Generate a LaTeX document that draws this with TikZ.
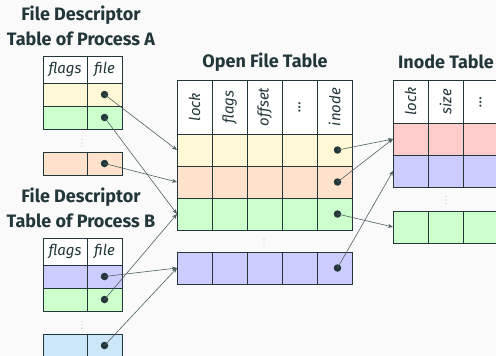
\documentclass[tikz,border=0pt]{standalone}
\usepackage{fontspec}
\setmainfont{Fira Sans}
\usetikzlibrary{arrows.meta}

\definecolor{slate}{HTML}{23373B}
\definecolor{pagebg}{HTML}{FAFAFA}
\definecolor{rowyellow}{HTML}{FFF8D6}
\definecolor{roworange}{HTML}{FFE2CC}
\definecolor{rowgreen}{HTML}{CCFFCC}
\definecolor{rowpurple}{HTML}{CCCCFF}
\definecolor{rowred}{HTML}{FFCCCC}
\definecolor{rowblue}{HTML}{CCE8F8}

\begin{document}
\begin{tikzpicture}[x=1pt, y=-1pt,
  cell/.style={rectangle, draw=slate, line width=0.6pt, minimum width=35pt,
    minimum height=32pt, inner sep=0pt, outer sep=0pt},
  fdcell/.style={cell, minimum height=23pt},
  head/.style={fill=white, text=slate, font=\itshape\fontsize{15}{17}\selectfont},
  ptr/.style={circle, fill=slate, inner sep=0pt, minimum size=7.5pt},
  link/.style={draw=slate!80, line width=0.6pt, -{Stealth[length=5pt, width=4pt]}},
  caption/.style={text=slate, align=center, font=\bfseries\fontsize{18}{25}\selectfont}]
\clip (0,0) rectangle (496,356);
\fill[pagebg] (0,0) rectangle (496,356);
% small vertical ellipsis between rows
\newcommand\rowgap[2]{\foreach \d in {-3.5,0,3.5} \fill[gray!45] (#1,#2+\d) circle (0.6pt);}

% process A
\node[caption] (fdA-title) at (81,25.5) {File Descriptor\\Table of Process A};
\node[fdcell, head, minimum width=44pt, minimum height=27pt] (fdA-h1) at (65,69.5) {flags};
\node[fdcell, head, minimum height=27pt] (fdA-h2) at (104.5,69.5) {file};
\foreach \c/\y [count=\r] in {rowyellow/94.5, rowgreen/117.5, roworange/163.5} {
  \node[fdcell, fill=\c, minimum width=44pt] (fdA-\r-1) at (65,\y) {};
  \node[fdcell, fill=\c] (fdA-\r-2) at (104.5,\y) {};
  \node[ptr] (fdA-dot-\r) at (fdA-\r-2) {};
}
\rowgap{82}{143}

% process B
\node[caption] (fdB-title) at (81,207.5) {File Descriptor\\Table of Process B};
\node[fdcell, head, minimum width=44pt, minimum height=27pt] (fdB-h1) at (65,251.5) {flags};
\node[fdcell, head, minimum height=27pt] (fdB-h2) at (104.5,251.5) {file};
\foreach \c/\y [count=\r] in {rowpurple/276.5, rowgreen/299.5, rowblue/345.5} {
  \node[fdcell, fill=\c, minimum width=44pt] (fdB-\r-1) at (65,\y) {};
  \node[fdcell, fill=\c] (fdB-\r-2) at (104.5,\y) {};
  \node[ptr] (fdB-dot-\r) at (fdB-\r-2) {};
}
\rowgap{82}{325}

% open file table
\node[caption] (oft-title) at (265,62) {Open File Table};
\foreach \t [count=\k] in {lock, flags, offset, \dots, inode}
  \node[cell, head, minimum height=54pt] (oft-h\k) at ({159.5+35*\k},107) {\rotatebox{90}{\t}};
\foreach \c/\y [count=\r] in {rowyellow/150, roworange/182, rowgreen/214, rowpurple/268} {
  \foreach \k in {1,...,5}
    \node[cell, fill=\c] (oft-\r-\k) at ({159.5+35*\k},\y) {};
  \node[ptr] (oft-dot-\r) at ([xshift=3pt]oft-\r-5) {};
}
\rowgap{264}{243}

% inode table
\node[caption] (ino-title) at (446,62) {Inode Table};
\foreach \t [count=\k] in {lock, size, \dots}
  \node[cell, head, minimum height=43pt] (ino-h\k) at ({375.5+35*\k},101.5) {\rotatebox{90}{\t}};
\foreach \c/\y [count=\r] in {rowred/139, rowpurple/171, rowgreen/227}
  \foreach \k in {1,2,3}
    \node[cell, fill=\c] (ino-\r-\k) at ({375.5+35*\k},\y) {};
\rowgap{446}{200}

% file descriptors -> open files
\draw[link] (fdA-dot-1.center) -- (oft-1-1.west);
\draw[link] (fdA-dot-2.center) -- (oft-3-1.west);
\draw[link] (fdA-dot-3.center) -- (oft-2-1.west);
\draw[link] (fdB-dot-1.center) -- (oft-4-1.west);
\draw[link] (fdB-dot-2.center) -- (oft-3-1.west);
\draw[link] (fdB-dot-3.center) -- (oft-4-1.west);

% open files -> inodes
\draw[link] (oft-dot-1.center) -- (ino-1-1.west);
\draw[link] (oft-dot-2.center) -- (ino-1-1.west);
\draw[link] (oft-dot-3.center) -- (ino-3-1.west);
\draw[link] (oft-dot-4.center) -- (ino-2-1.west);
\end{tikzpicture}
\end{document}
